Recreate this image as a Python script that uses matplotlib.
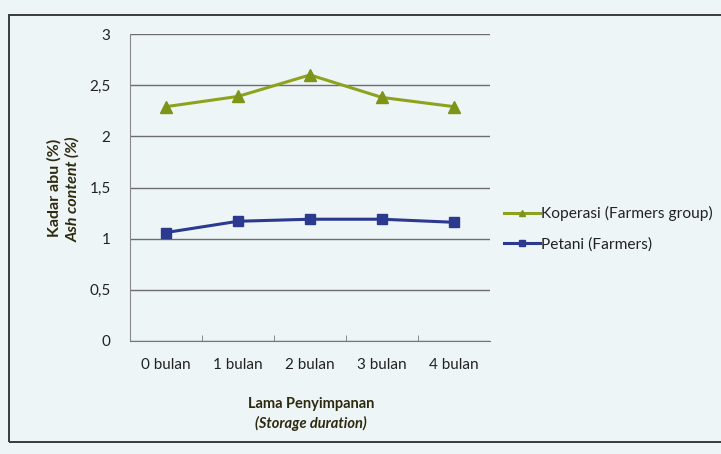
import matplotlib
matplotlib.use("Agg")
import matplotlib.pyplot as plt
from matplotlib.patches import Rectangle
from matplotlib.ticker import FuncFormatter

categories = ["0 bulan", "1 bulan", "2 bulan", "3 bulan", "4 bulan"]
koperasi = [2.29, 2.39, 2.60, 2.38, 2.29]
petani = [1.06, 1.17, 1.19, 1.19, 1.16]
yticks = [0, 0.5, 1, 1.5, 2, 2.5, 3]

plt.rcParams['font.family'] = ['Lato', 'DejaVu Sans']
bg = "#eef5f6"
fig = plt.figure(figsize=(7.21, 4.54), dpi=100, facecolor=bg)
W, H = 721, 454
ax = fig.add_axes([130 / W, 1 - 341 / H, 360 / W, 307 / H])
ax.set_facecolor(bg)

x = list(range(len(categories)))
ax.plot(x, koperasi, color="#8ea21e", lw=2.2, marker="^", ms=8,
        markerfacecolor="#7d9418", markeredgecolor="#7d9418",
        label="Koperasi (Farmers group)", zorder=3)
ax.plot(x, petani, color="#2b3a8f", lw=2.2, marker="s", ms=7.5,
        markerfacecolor="#2b3a8f", markeredgecolor="#2b3a8f",
        label="Petani (Farmers)", zorder=3)

ax.set_xlim(-0.5, len(categories) - 0.5)
ax.set_ylim(0, 3)
ax.set_yticks(yticks)
ax.yaxis.set_major_formatter(FuncFormatter(lambda v, p: ("%g" % v).replace(".", ",")))
ax.set_xticks(x)
ax.set_xticklabels(categories)
ax.set_xticks([i + 0.5 for i in x[:-1]], minor=True)
ax.tick_params(axis="x", which="major", length=0, pad=12, labelsize=11, colors="#222222")
ax.tick_params(axis="x", which="minor", length=4, direction="in", color="#777777")
ax.tick_params(axis="y", length=0, pad=14, labelsize=11, colors="#222222")
ax.grid(axis="y", color="#6d6d6d", lw=1.0)
ax.set_axisbelow(True)
for s in ["top", "right"]:
    ax.spines[s].set_visible(False)
ax.spines["left"].set_color("#888888")
ax.spines["left"].set_linestyle((0, (1, 1)))
ax.spines["bottom"].set_color("#777777")

# axis titles
fig.text(54 / W, 1 - 188 / H, "Kadar abu (%)", rotation=90, ha="center", va="center",
         fontsize=11.5, fontweight="bold", color="#2e2a10")
fig.text(73 / W, 1 - 189 / H, "Ash content (%)", rotation=90, ha="center", va="center",
         fontsize=11.5, fontweight="bold", style="italic", color="#2e2a10")
fig.text(311 / W, 1 - 404 / H, "Lama Penyimpanan", ha="center", va="center",
         fontsize=10.5, fontweight="bold", color="#2e2a10")
fig.text(311 / W, 1 - 423 / H, "(Storage duration)", ha="center", va="center",
         fontsize=10.5, fontweight="bold", style="italic", color="#2e2a10")

leg = ax.legend(loc="center left", bbox_to_anchor=(504 / W, 1 - 229 / H),
                bbox_transform=fig.transFigure, frameon=False, fontsize=11.2,
                handlelength=2.3, handletextpad=0.1, labelspacing=1.05,
                markerscale=0.55, borderpad=0, borderaxespad=0)
for t in leg.get_texts():
    t.set_color("#222222")

# outer border of the chart frame
fig.patches.append(Rectangle((9 / W, 1 - 442 / H), (W + 20) / W, (442 - 15) / H,
                             transform=fig.transFigure, fill=False,
                             edgecolor="#3a3a3a", lw=1.4))

fig.savefig("out.png", dpi=100, facecolor=bg)
